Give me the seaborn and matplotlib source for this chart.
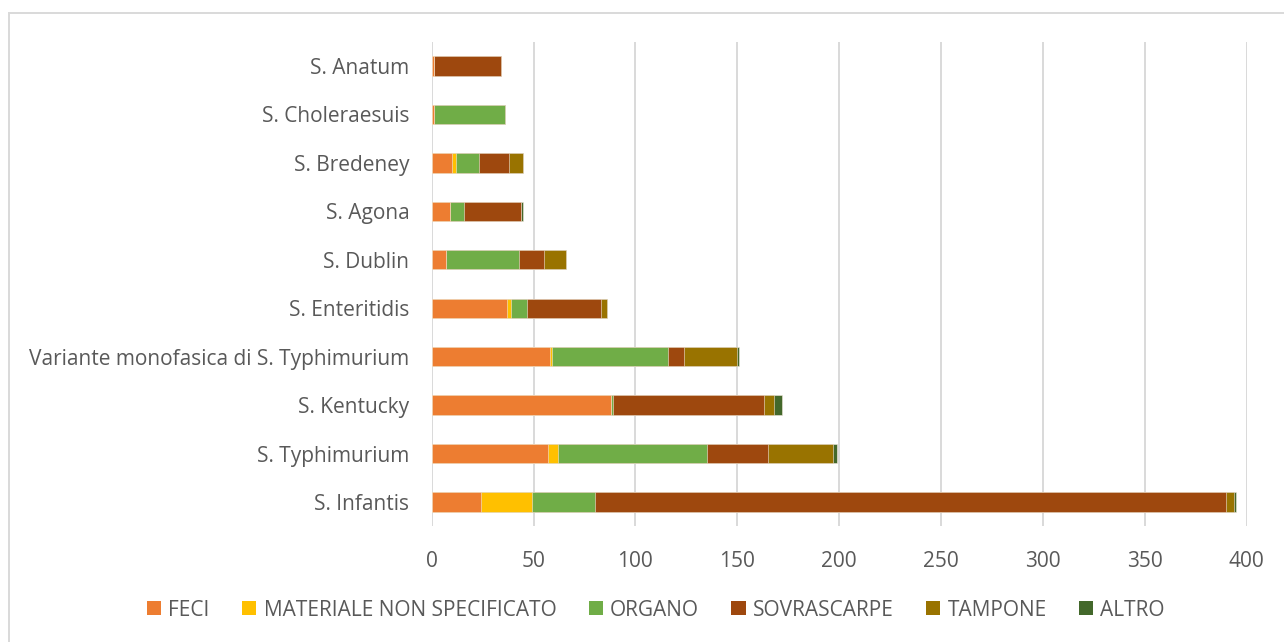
import numpy as np
import pandas as pd
import matplotlib
matplotlib.use("Agg")
import matplotlib.pyplot as plt
from matplotlib.patches import Patch, Rectangle
import seaborn as sns

# Serotypes, top to bottom
serotypes = [
    "S. Anatum",
    "S. Choleraesuis",
    "S. Bredeney",
    "S. Agona",
    "S. Dublin",
    "S. Enteritidis",
    "Variante monofasica di S. Typhimurium",
    "S. Kentucky",
    "S. Typhimurium",
    "S. Infantis",
]

# Number of isolates per sample type
feci = [1, 1, 10, 9, 7, 37, 58, 88, 57, 24]
materiale = [0, 0, 2, 0, 0, 2, 1, 0, 5, 25]
organo = [0, 35, 11, 7, 36, 8, 57, 1, 73, 31]
sovrascarpe = [33, 0, 15, 28, 12, 36, 8, 74, 30, 310]
tampone = [0, 0, 7, 0, 11, 3, 26, 5, 32, 4]
altro = [0, 0, 0, 1, 0, 0, 1, 4, 2, 1]

series_names = ["FECI", "MATERIALE NON SPECIFICATO", "ORGANO",
                "SOVRASCARPE", "TAMPONE", "ALTRO"]
series_values = [feci, materiale, organo, sovrascarpe, tampone, altro]
series_colors = ["#ED7D31", "#FFC000", "#70AD47", "#9E480E", "#997300", "#43682B"]

x_ticks = [0, 50, 100, 150, 200, 250, 300, 350, 400]

text_color = "#595959"
grid_color = "#D9D9D9"
font_size = 15

sns.set_theme(style="white")
plt.rcParams["font.family"] = ["Open Sans", "DejaVu Sans"]

df = pd.DataFrame({"serotype": serotypes})
for name, vals in zip(series_names, series_values):
    df[name] = vals
cum = df[series_names].cumsum(axis=1)

fig = plt.figure(figsize=(12.84, 6.42), dpi=100)
ax = fig.add_axes([0.3362, 0.1804, 0.9709 - 0.3362, 0.9349 - 0.1804])

# Stacked bars: draw cumulative totals from the outermost layer inward
for name, color in reversed(list(zip(series_names, series_colors))):
    sns.barplot(data=pd.DataFrame({"serotype": serotypes, "v": cum[name]}),
                x="v", y="serotype", orient="h", color=color,
                width=0.4, saturation=1, edgecolor="#F2E6DC", linewidth=0.4,
                ax=ax)

ax.set_xlim(0, 400)
ax.set_ylim(len(serotypes) - 0.5, -0.5)
ax.set_xticks(x_ticks)
ax.set_xticklabels([str(t) for t in x_ticks])
ax.set_xlabel("")
ax.set_ylabel("")
ax.xaxis.grid(True, color=grid_color, linewidth=1.4)
ax.set_axisbelow(True)
for s in ax.spines.values():
    s.set_visible(False)
ax.tick_params(axis="both", length=0, labelsize=font_size, colors=text_color)
ax.tick_params(axis="x", pad=18)
ax.tick_params(axis="y", pad=16)

handles = [Patch(facecolor=c, edgecolor="none") for c in series_colors]
fig.legend(handles, series_names, loc="center",
           bbox_to_anchor=(656 / 1284, 1 - 610 / 642), ncol=6, frameon=False,
           fontsize=font_size, labelcolor=text_color, handlelength=0.68,
           handleheight=0.68, handletextpad=0.35, columnspacing=1.55)

# Chart area border
fig.patches.append(Rectangle((9 / 1284, -0.1), 1.2, 1 - 13 / 642 + 0.1,
                             transform=fig.transFigure, fill=False,
                             edgecolor="#D9D9D9", linewidth=1.4))

fig.savefig("out.png", dpi=100)
